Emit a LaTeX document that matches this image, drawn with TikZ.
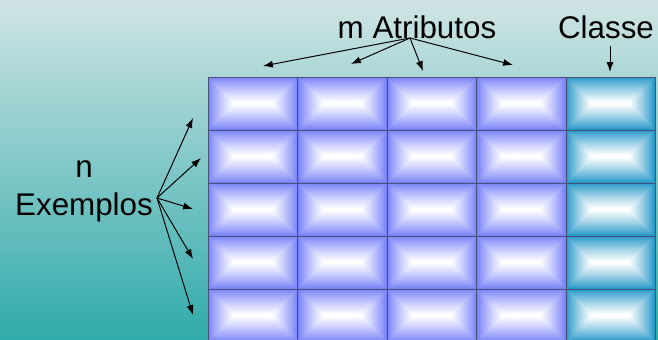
\documentclass[tikz,border=0pt]{standalone}
\usepackage{fontspec}
\setmainfont{Liberation Sans}
\usetikzlibrary{arrows.meta}

\definecolor{fundoalto}{RGB}{208,228,228}
\definecolor{fundobaixo}{RGB}{48,170,170}
\definecolor{atributo}{RGB}{118,128,248}
\definecolor{classe}{RGB}{36,150,200}
\definecolor{borda}{RGB}{70,82,120}

\begin{document}
\begin{tikzpicture}[x=0.025cm,y=-0.025cm,
		rotulo/.style={font=\fontsize{22.3}{27}\selectfont, inner sep=0pt},
		seta/.style={-{Latex[length=7pt,width=5pt]}, line width=0.7pt},
		celula/.style={draw=borda, line width=0.6pt, anchor=north west,
			minimum width=2.235cm, minimum height=1.325cm, inner sep=0pt,
			path picture={
				\foreach \k in {0,...,26}{
					\pgfmathtruncatemacro{\pct}{min(100,100*(\k/25)^0.85)}
					\fill[white!\pct!#1]
					([shift={(\k,\k)}]path picture bounding box.north west) rectangle
					([shift={(-\k,-\k)}]path picture bounding box.south east);
				}
			}}
		]
		\useasboundingbox (0,0) rectangle (658,340);
		\clip (0,0) rectangle (658,340);
		\shade[top color=fundoalto, bottom color=fundobaixo] (0,0) rectangle (658,340);
		
		% tabela: 4 colunas de atributos e a coluna da classe
		\foreach \r in {0,...,4}{
			\foreach \c in {0,...,3}{
				\node[celula=atributo] (c-\r-\c) at (208+89.4*\c, 77+53*\r) {};
			}
			\node[celula=classe] (c-\r-4) at (565.6, 77+53*\r) {};
		}
		
		\node[rotulo] (atrib) at (417,27) {m Atributos};
		\node[rotulo] (cls) at (606,27) {Classe};
		\node[rotulo, align=center] (exemplos) at (84,191) {n\\Exemplos};
		
		\coordinate (oa) at (410,38);
		\coordinate (oc) at (610,46);
		\coordinate (oe) at (157,198);
		
		\coordinate (a1) at (263,66);
		\coordinate (a2) at (351,64);
		\coordinate (a3) at (423,71);
		\coordinate (a4) at (513,65);
		\coordinate (ac) at (610,72);
		
		\coordinate (e1) at (193,118);
		\coordinate (e2) at (201,158);
		\coordinate (e3) at (193,209);
		\coordinate (e4) at (193,259);
		\coordinate (e5) at (193,315);
		
		\foreach \t in {a1,a2,a3,a4}
		\draw[seta] (oa) -- (\t);
		\draw[seta] (oc) -- (ac);
		\foreach \t in {e1,e2,e3,e4,e5}
		\draw[seta] (oe) -- (\t);
	\end{tikzpicture}
\end{document}
